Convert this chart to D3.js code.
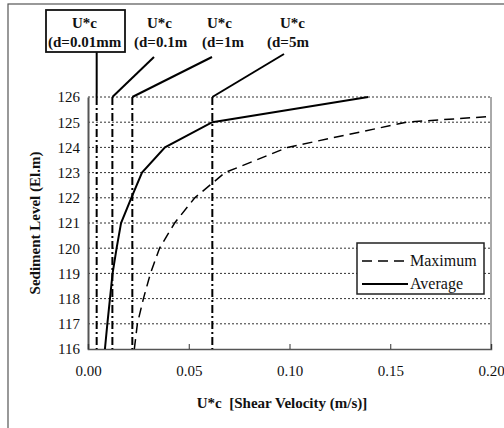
<!DOCTYPE html>
<html>
<head>
<meta charset="utf-8">
<script src="https://cdn.jsdelivr.net/npm/d3@7"></script>
<style>
  html, body { margin: 0; padding: 0; background: #fff; }
  svg text { font-family: "Liberation Serif", "Times New Roman", "DejaVu Serif", serif !important; }
</style>
</head>
<body>
<svg id="chart" width="504" height="428"></svg>
<script>
// Sediment level (El. m) versus critical shear velocity U*c (m/s)
const avgLevels = [116, 117, 118, 119, 120, 121, 122, 123, 124, 125, 126];
const avgU      = [0.0084, 0.0096, 0.0109, 0.0122, 0.0142, 0.0164, 0.0215, 0.0268, 0.0382, 0.0617, 0.139];

const maxLevels = [116, 117, 118, 119, 120, 121, 122, 123, 124, 125, 125.22];
const maxU      = [0.023, 0.0245, 0.0275, 0.031, 0.0355, 0.043, 0.053, 0.068, 0.099, 0.158, 0.198];

// Critical shear velocity for each grain size
const critU     = [0.0043, 0.0121, 0.022, 0.0617];
const critNames = ["(d=0.01mm", "(d=0.1m", "(d=1m", "(d=5m"];

const yTicks = [116, 117, 118, 119, 120, 121, 122, 123, 124, 125, 126];
const xTicks = [0, 0.05, 0.10, 0.15, 0.20];
const seriesNames = ["Maximum", "Average"];

const svg = d3.select("#chart");

// outer frame
svg.append("rect")
  .attr("x", 8).attr("y", 4).attr("width", 520).attr("height", 440)
  .attr("fill", "none").attr("stroke", "#555").attr("stroke-width", 1.2);

const x = d3.scaleLinear().domain([0, 0.2]).range([88, 491]);
const y = d3.scaleLinear().domain([116, 126]).range([349, 97]);

// horizontal gridlines (top one doubles as the plot's upper border)
svg.append("g").selectAll("line")
  .data(yTicks.slice(1))
  .join("line")
  .attr("x1", x(0)).attr("x2", x(0.2))
  .attr("y1", d => y(d)).attr("y2", d => y(d))
  .attr("stroke", "#333").attr("stroke-width", 1)
  .attr("stroke-dasharray", "2,2");

// right border
svg.append("line")
  .attr("x1", x(0.2)).attr("x2", x(0.2)).attr("y1", y(126)).attr("y2", y(116))
  .attr("stroke", "#555").attr("stroke-width", 1);

// y axis
const yAxis = d3.axisLeft(y).tickValues(yTicks).tickSize(0).tickPadding(8).tickFormat(d3.format("d"));
const gy = svg.append("g").attr("transform", `translate(${x(0)},0)`).call(yAxis);
gy.select(".domain").attr("stroke", "#555").attr("stroke-width", 2);
gy.selectAll("text").attr("font-size", 15).attr("fill", "#111");

// x axis, ticks pointing inward
const xAxis = d3.axisBottom(x).tickValues(xTicks).tickSize(-5).tickPadding(16).tickFormat(d3.format(".2f"));
const gx = svg.append("g").attr("transform", `translate(0,${y(116)})`).call(xAxis);
gx.select(".domain").attr("stroke", "#555").attr("stroke-width", 1.5);
gx.selectAll(".tick line").attr("stroke", "#333");
gx.selectAll("text").attr("font-size", 15).attr("fill", "#111");

// critical velocity verticals (dash-dot)
svg.append("g").selectAll("line")
  .data(critU)
  .join("line")
  .attr("x1", d => x(d)).attr("x2", d => x(d))
  .attr("y1", y(126)).attr("y2", y(116))
  .attr("stroke", "#000").attr("stroke-width", 2)
  .attr("stroke-dasharray", "8,3,2,3");

const line = d3.line().x(d => x(d[0])).y(d => y(d[1]));

// Maximum (dashed)
svg.append("path")
  .datum(maxU.map((u, i) => [u, maxLevels[i]]))
  .attr("d", line)
  .attr("fill", "none").attr("stroke", "#000").attr("stroke-width", 1.5)
  .attr("stroke-dasharray", "10,6");

// Average (solid)
svg.append("path")
  .datum(avgU.map((u, i) => [u, avgLevels[i]]))
  .attr("d", line)
  .attr("fill", "none").attr("stroke", "#000").attr("stroke-width", 2);

// annotation labels above the plot
const labelLayout = [
  { top: 72, bottom: 48, from: [96.7, 52] },
  { top: 147, bottom: 134, from: [154, 57] },
  { top: 207, bottom: 202, from: [212, 57] },
  { top: 280, bottom: 267, from: [284, 54] }
];
const ann = svg.append("g").attr("font-size", 15).attr("font-weight", "bold").attr("fill", "#111");
critNames.forEach((name, i) => {
  const L = labelLayout[i];
  ann.append("text").attr("x", L.top).attr("y", 28).text("U*c");
  ann.append("text").attr("x", L.bottom).attr("y", 47).text(name);
  svg.append("line")
    .attr("x1", L.from[0]).attr("y1", L.from[1])
    .attr("x2", x(critU[i])).attr("y2", y(126))
    .attr("stroke", "#000").attr("stroke-width", 2);
});
// box around first label
svg.append("rect")
  .attr("x", 46).attr("y", 10).attr("width", 79).attr("height", 42)
  .attr("fill", "none").attr("stroke", "#111").attr("stroke-width", 1.8);

// axis titles
svg.append("text")
  .attr("transform", `translate(40,${(y(116) + y(126)) / 2}) rotate(-90)`)
  .attr("text-anchor", "middle").attr("font-size", 15).attr("font-weight", "bold").attr("fill", "#111")
  .text("Sediment Level (El.m)");
svg.append("text")
  .attr("x", 282).attr("y", 408)
  .attr("text-anchor", "middle").attr("font-size", 15).attr("font-weight", "bold").attr("fill", "#111")
  .attr("xml:space", "preserve")
  .text("U*c  [Shear Velocity (m/s)]");

// legend
const lg = svg.append("g");
lg.append("rect")
  .attr("x", 357).attr("y", 243).attr("width", 127).attr("height", 51)
  .attr("fill", "#fff").attr("stroke", "#222").attr("stroke-width", 1.5);
const legendDash = ["10,6", null];
const legendWidth = [1.5, 2];
seriesNames.forEach((name, i) => {
  const ly = 261 + i * 23;
  lg.append("line")
    .attr("x1", 362).attr("x2", 408).attr("y1", ly).attr("y2", ly)
    .attr("stroke", "#000").attr("stroke-width", legendWidth[i])
    .attr("stroke-dasharray", legendDash[i]);
  lg.append("text")
    .attr("x", 410).attr("y", ly + 5)
    .attr("font-size", 16).attr("fill", "#111")
    .text(name);
});
</script>
</body>
</html>
